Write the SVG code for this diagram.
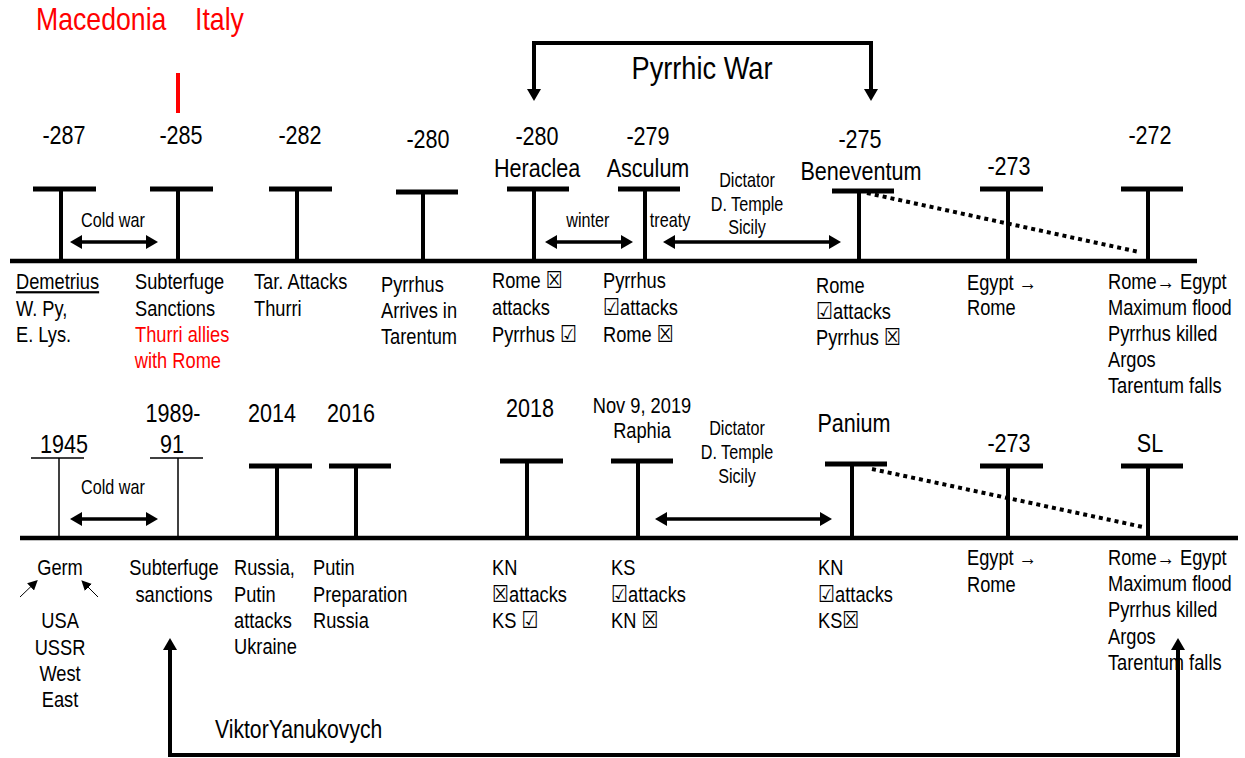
<svg xmlns="http://www.w3.org/2000/svg" width="1245" height="758" viewBox="0 0 1245 758">
<style>
text{font-family:"Liberation Sans Narrow","Arial Narrow","Liberation Sans",sans-serif;fill:#000;transform-box:fill-box;transform-origin:0 50%;transform:scaleX(0.83)}
.yr{font-size:26px;text-anchor:middle;transform-origin:50% 50%}
.lb{font-size:22px}
.sm{font-size:19.5px}
.mid{text-anchor:middle;transform-origin:50% 50%}
.red{fill:#ff0000}
.ttl{font-size:31px;transform:scaleX(0.86)}
.pw{font-size:32px;transform:scaleX(0.85)}
.bx{font-family:"DejaVu Sans",sans-serif;font-size:23px;font-weight:bold}
.bar{stroke:#000;stroke-width:5}
.stem{stroke:#000;stroke-width:4}
.thin{stroke:#000;stroke-width:1.5}
.axis{stroke:#000;stroke-width:4.5}
.arr{stroke:#000;stroke-width:3.5;fill:none;marker-start:url(#ah);marker-end:url(#ah)}
.big{stroke:#000;stroke-width:4;fill:none;marker-start:url(#ah);marker-end:url(#ah)}
.dot{stroke:#000;stroke-width:4;stroke-dasharray:4 4;fill:none}
.sa{stroke:#000;stroke-width:1;fill:none;marker-end:url(#sh)}
</style>
<defs>
<marker id="ah" viewBox="0 0 12 14" refX="2" refY="7" markerWidth="12" markerHeight="14" markerUnits="userSpaceOnUse" orient="auto-start-reverse"><path d="M0,0 L12,7 L0,14 z" fill="#000"/></marker>
<marker id="sh" viewBox="0 0 10 10" refX="2" refY="5" markerWidth="10" markerHeight="10" markerUnits="userSpaceOnUse" orient="auto"><path d="M0,0 L10,5 L0,10 z" fill="#000"/></marker>
</defs>
<rect width="1245" height="758" fill="#fff"/>

<g id="title">
<text x="36" y="30" class="ttl red">Macedonia</text>
<text x="195" y="30" class="ttl red">Italy</text>
<line x1="178" y1="73" x2="178" y2="113" stroke="#ff0000" stroke-width="4"/>
</g>

<g id="connectors">
<line class="axis" x1="10" y1="261" x2="1197" y2="261"/>
<line class="axis" x1="20" y1="538" x2="1238" y2="538"/>
<line class="arr" x1="80" y1="242" x2="148" y2="242"/>
<line class="arr" x1="555" y1="242" x2="623" y2="242"/>
<line class="arr" x1="673" y1="242" x2="831" y2="242"/>
<line class="arr" x1="80" y1="519" x2="148" y2="519"/>
<line class="arr" x1="665" y1="519" x2="822" y2="519"/>
<line class="dot" x1="867" y1="193" x2="1139" y2="252"/>
<line class="dot" x1="872" y1="469" x2="1143" y2="527"/>
<path class="big" d="M534,91 V43 H871 V91"/>
<path class="big" d="M170,648 V755 H1178 V648"/>
<line class="sa" x1="20" y1="597" x2="32" y2="585.5"/>
<line class="sa" x1="98" y1="597" x2="87" y2="586"/>
</g>

<g id="annotations">
<text x="113" y="227" class="sm mid">Cold war</text>
<text x="588" y="227" class="sm mid">winter</text>
<text x="670" y="227" class="sm mid">treaty</text>
<text x="747" y="187" class="sm mid">Dictator</text>
<text x="747" y="211" class="sm mid">D. Temple</text>
<text x="747" y="234" class="sm mid">Sicily</text>
<text x="702" y="79" class="mid pw">Pyrrhic War</text>
<text x="113" y="494" class="sm mid">Cold war</text>
<text x="737" y="435" class="sm mid">Dictator</text>
<text x="737" y="459" class="sm mid">D. Temple</text>
<text x="737" y="483" class="sm mid">Sicily</text>
<text x="215" y="738" style="font-size:25.5px">ViktorYanukovych</text>
</g>

<g id="n-287">
<line class="bar" x1="33" y1="189" x2="96" y2="189"/>
<line class="stem" x1="61" y1="189" x2="61" y2="263"/>
<text x="64" y="144" class="yr">-287</text>
<text x="16" y="289" class="lb" text-decoration="underline">Demetrius</text>
<text x="16" y="316" class="lb">W. Py,</text>
<text x="16" y="342" class="lb">E. Lys.</text>
</g>
<g id="n-285">
<line class="bar" x1="150" y1="189" x2="213" y2="189"/>
<line class="stem" x1="178" y1="189" x2="178" y2="263"/>
<text x="181" y="144" class="yr">-285</text>
<text x="135" y="289" class="lb">Subterfuge</text>
<text x="135" y="316" class="lb">Sanctions</text>
<text x="135" y="342" class="lb red">Thurri allies</text>
<text x="135" y="368" class="lb red">with Rome</text>
</g>
<g id="n-282">
<line class="bar" x1="269" y1="189" x2="332" y2="189"/>
<line class="stem" x1="297" y1="189" x2="297" y2="263"/>
<text x="300" y="144" class="yr">-282</text>
<text x="254" y="289" class="lb">Tar. Attacks</text>
<text x="254" y="316" class="lb">Thurri</text>
</g>
<g id="n-280a">
<line class="bar" x1="396" y1="192" x2="458" y2="192"/>
<line class="stem" x1="423" y1="192" x2="423" y2="263"/>
<text x="428" y="148" class="yr">-280</text>
<text x="381" y="292" class="lb">Pyrrhus</text>
<text x="381" y="318" class="lb">Arrives in</text>
<text x="381" y="344" class="lb">Tarentum</text>
</g>
<g id="n-heraclea">
<line class="bar" x1="507" y1="189" x2="569" y2="189"/>
<line class="stem" x1="534" y1="189" x2="534" y2="263"/>
<text x="537" y="145" class="yr">-280</text>
<text x="537" y="177" class="yr">Heraclea</text>
<text x="492" y="288" class="lb">Rome <tspan class="bx">☒</tspan></text>
<text x="492" y="315" class="lb">attacks</text>
<text x="492" y="342" class="lb">Pyrrhus <tspan class="bx">☑</tspan></text>
</g>
<g id="n-asculum">
<line class="bar" x1="618" y1="189" x2="680" y2="189"/>
<line class="stem" x1="645" y1="189" x2="645" y2="263"/>
<text x="648" y="145" class="yr">-279</text>
<text x="648" y="177" class="yr">Asculum</text>
<text x="603" y="288" class="lb">Pyrrhus</text>
<text x="603" y="315" class="lb"><tspan class="bx">☑</tspan>attacks</text>
<text x="603" y="342" class="lb">Rome <tspan class="bx">☒</tspan></text>
</g>
<g id="n-beneventum">
<line class="bar" x1="832" y1="191" x2="894" y2="191"/>
<line class="stem" x1="859" y1="191" x2="859" y2="263"/>
<text x="860" y="148" class="yr">-275</text>
<text x="861" y="180" class="yr">Beneventum</text>
<text x="816" y="293" class="lb">Rome</text>
<text x="816" y="319" class="lb"><tspan class="bx">☑</tspan>attacks</text>
<text x="816" y="345" class="lb">Pyrrhus <tspan class="bx">☒</tspan></text>
</g>
<g id="n-273">
<line class="bar" x1="980" y1="189" x2="1043" y2="189"/>
<line class="stem" x1="1008" y1="189" x2="1008" y2="263"/>
<text x="1009" y="175" class="yr">-273</text>
<text x="967" y="290" class="lb">Egypt →</text>
<text x="967" y="315" class="lb">Rome</text>
</g>
<g id="n-272">
<line class="bar" x1="1121" y1="189" x2="1183" y2="189"/>
<line class="stem" x1="1148" y1="189" x2="1148" y2="263"/>
<text x="1150" y="144" class="yr">-272</text>
<text x="1108" y="289" class="lb">Rome→ Egypt</text>
<text x="1108" y="315" class="lb">Maximum flood</text>
<text x="1108" y="341" class="lb">Pyrrhus killed</text>
<text x="1108" y="367" class="lb">Argos</text>
<text x="1108" y="393" class="lb">Tarentum falls</text>
</g>

<g id="n-1945">
<line class="thin" x1="31" y1="458" x2="84" y2="458"/>
<line class="thin" x1="59" y1="458" x2="59" y2="538"/>
<text x="64" y="453" class="yr">1945</text>
<text x="60" y="575" class="lb mid">Germ</text>
<text x="60" y="628" class="lb mid">USA</text>
<text x="60" y="655" class="lb mid">USSR</text>
<text x="60" y="681" class="lb mid">West</text>
<text x="60" y="707" class="lb mid">East</text>
</g>
<g id="n-1989">
<line class="thin" x1="150" y1="458" x2="203" y2="458"/>
<line class="thin" x1="178" y1="458" x2="178" y2="538"/>
<text x="173" y="422" class="yr">1989-</text>
<text x="172" y="453" class="yr">91</text>
<text x="174" y="575" class="lb mid">Subterfuge</text>
<text x="174" y="602" class="lb mid">sanctions</text>
</g>
<g id="n-2014">
<line class="bar" x1="249" y1="466" x2="312" y2="466"/>
<line class="stem" x1="277" y1="466" x2="277" y2="540"/>
<text x="272" y="422" class="yr">2014</text>
<text x="234" y="575" class="lb">Russia,</text>
<text x="234" y="602" class="lb">Putin</text>
<text x="234" y="628" class="lb">attacks</text>
<text x="234" y="654" class="lb">Ukraine</text>
</g>
<g id="n-2016">
<line class="bar" x1="329" y1="466" x2="391" y2="466"/>
<line class="stem" x1="356" y1="466" x2="356" y2="540"/>
<text x="351" y="422" class="yr">2016</text>
<text x="313" y="575" class="lb">Putin</text>
<text x="313" y="602" class="lb">Preparation</text>
<text x="313" y="628" class="lb">Russia</text>
</g>
<g id="n-2018">
<line class="bar" x1="500" y1="461" x2="563" y2="461"/>
<line class="stem" x1="527" y1="461" x2="527" y2="540"/>
<text x="530" y="417" class="yr">2018</text>
<text x="492" y="575" class="lb">KN</text>
<text x="492" y="602" class="lb"><tspan class="bx">☒</tspan>attacks</text>
<text x="492" y="628" class="lb">KS <tspan class="bx">☑</tspan></text>
</g>
<g id="n-raphia">
<line class="bar" x1="611" y1="461" x2="673" y2="461"/>
<line class="stem" x1="638" y1="461" x2="638" y2="540"/>
<text x="642" y="413" class="mid" style="font-size:22px">Nov 9, 2019</text>
<text x="642" y="438" class="mid" style="font-size:22px">Raphia</text>
<text x="611" y="575" class="lb">KS</text>
<text x="611" y="602" class="lb"><tspan class="bx">☑</tspan>attacks</text>
<text x="611" y="628" class="lb">KN <tspan class="bx">☒</tspan></text>
</g>
<g id="n-panium">
<line class="bar" x1="825" y1="464" x2="887" y2="464"/>
<line class="stem" x1="852" y1="464" x2="852" y2="540"/>
<text x="854" y="432" class="yr">Panium</text>
<text x="818" y="575" class="lb">KN</text>
<text x="818" y="602" class="lb"><tspan class="bx">☑</tspan>attacks</text>
<text x="818" y="628" class="lb">KS<tspan class="bx">☒</tspan></text>
</g>
<g id="n-273b">
<line class="bar" x1="980" y1="466" x2="1043" y2="466"/>
<line class="stem" x1="1008" y1="466" x2="1008" y2="540"/>
<text x="1009" y="452" class="yr">-273</text>
<text x="967" y="565" class="lb">Egypt →</text>
<text x="967" y="592" class="lb">Rome</text>
</g>
<g id="n-sl">
<line class="bar" x1="1121" y1="466" x2="1183" y2="466"/>
<line class="stem" x1="1148" y1="466" x2="1148" y2="540"/>
<text x="1150" y="452" class="yr">SL</text>
<text x="1108" y="565" class="lb">Rome→ Egypt</text>
<text x="1108" y="591" class="lb">Maximum flood</text>
<text x="1108" y="617" class="lb">Pyrrhus killed</text>
<text x="1108" y="644" class="lb">Argos</text>
<text x="1108" y="670" class="lb">Tarentum falls</text>
</g>
</svg>
